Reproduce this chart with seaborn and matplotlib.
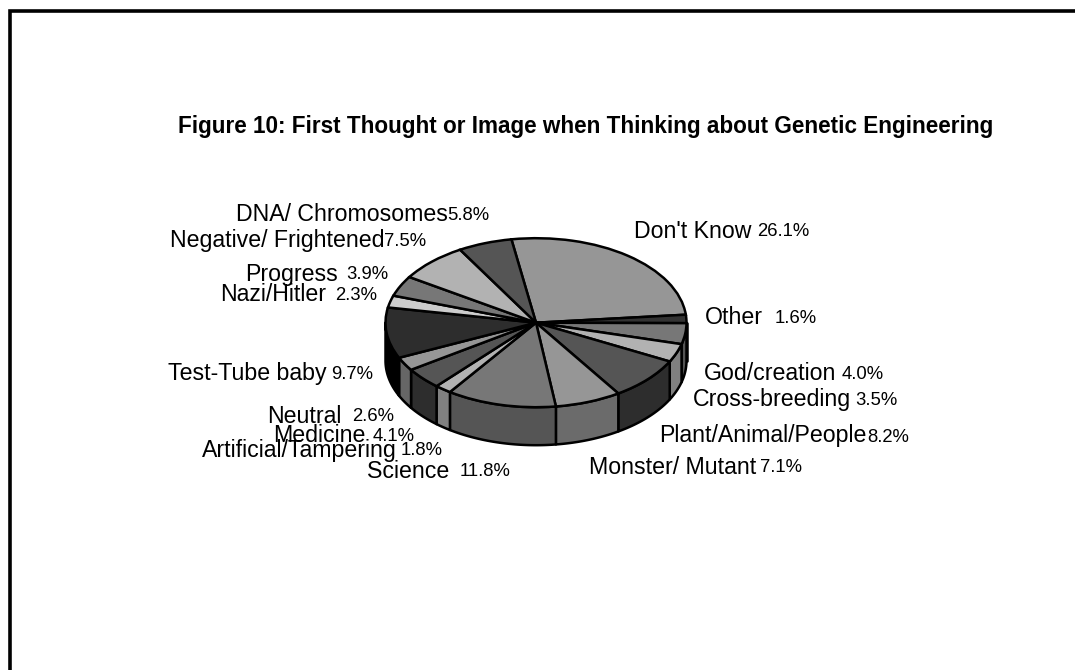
import numpy as np
import matplotlib
matplotlib.use("Agg")
import matplotlib.pyplot as plt
from matplotlib.lines import Line2D
import seaborn as sns

categories = ["Don't Know", "Other", "God/creation", "Cross-breeding",
              "Plant/Animal/People", "Monster/ Mutant", "Science",
              "Artificial/Tampering", "Medicine", "Neutral", "Test-Tube baby",
              "Nazi/Hitler", "Progress", "Negative/ Frightened", "DNA/ Chromosomes"]
shares = [26.1, 1.6, 4.0, 3.5, 8.2, 7.1, 11.8, 1.8, 4.1, 2.6, 9.7, 2.3, 3.9, 7.5, 5.8]
top_greys = ["#969696", "#333333", "#777777", "#b2b2b2", "#555555", "#969696",
             "#777777", "#b2b2b2", "#555555", "#969696", "#2d2d2d", "#cccccc",
             "#777777", "#b2b2b2", "#555555"]
side_greys = ["#6b6b6b", "#222222", "#555555", "#808080", "#2d2d2d", "#6b6b6b",
              "#555555", "#808080", "#2d2d2d", "#666666", "#000000", "#8f8f8f",
              "#555555", "#808080", "#3a3a3a"]
title = "Figure 10: First Thought or Image when Thinking about Genetic Engineering"

# Pie geometry in pixels
W, H = 1075, 670
CX, CY, RX, RY, DEPTH = 536.0, 322.7, 150.5, 84.5, 38.0
START = -9.4  # clockwise degrees from 12 o'clock

# left edge and baseline of each name and percentage
name_xy = [(634, 238), (705, 324), (704, 380), (693, 406), (659, 442), (589, 474),
           (367, 478), (202, 457), (273, 442), (267, 423), (168, 380), (220, 301),
           (245, 281), (170, 247), (236, 221)]
pct_xy = [(757, 236), (775, 323), (842, 379), (855, 405), (867, 442), (760, 472),
          (460, 476), (401, 455), (373, 441), (352, 421), (331, 379), (335, 300),
          (346, 279), (384, 246), (447, 220)]

sns.set_theme(style="white")
plt.rcParams["font.family"] = ["Liberation Sans", "DejaVu Sans"]

fig = plt.figure(figsize=(W / 100, H / 100), dpi=100, facecolor="white")
ax = fig.add_axes([0, 0, 1, 1])

ax.pie(shares, colors=top_greys, startangle=90 - START, counterclock=False,
       radius=1.0, center=(0, 0),
       wedgeprops=dict(edgecolor="black", linewidth=1.8, zorder=3))

# Rim of the disc: only the part of each slice on the near half shows
depth = DEPTH / RY
edges = START + np.cumsum([0] + shares) * 3.6
for a, b, side in zip(edges[:-1], edges[1:], side_greys):
    lo, hi = max(a, 90.0), min(b, 270.0)
    if hi <= lo:
        continue
    t = np.radians(np.linspace(lo, hi, 60))
    x, y = np.sin(t), np.cos(t)
    ax.fill(np.r_[x, x[::-1]], np.r_[y, y[::-1] - depth], facecolor=side,
            edgecolor="black", linewidth=1.8, zorder=2, joinstyle="round")

ax.set_aspect("auto")
ax.set_xlim((0 - CX) / RX, (W - CX) / RX)
ax.set_ylim((CY - H) / RY, CY / RY)
ax.axis("off")

def to_fig(px, py):
    return px / W, 1 - py / H

for name, pct, nxy, pxy in zip(categories, shares, name_xy, pct_xy):
    fig.text(*to_fig(*nxy), name, fontsize=16.7, color="black", ha="left", va="baseline")
    fig.text(*to_fig(*pxy), f"{pct:.1f}%", fontsize=13.3, color="black", ha="left", va="baseline")

fig.text(*to_fig(178, 133), title, fontsize=16.22, fontweight="bold", color="black",
         ha="left", va="baseline")

# Page border: top and left rules run off the sheet
fig.add_artist(Line2D([10.1 / W, 10.1 / W, 1], [0, 1 - 10.7 / H, 1 - 10.7 / H],
                      color="black", linewidth=2.6, solid_joinstyle="miter"))

fig.savefig("out.png", dpi=100, facecolor="white")
